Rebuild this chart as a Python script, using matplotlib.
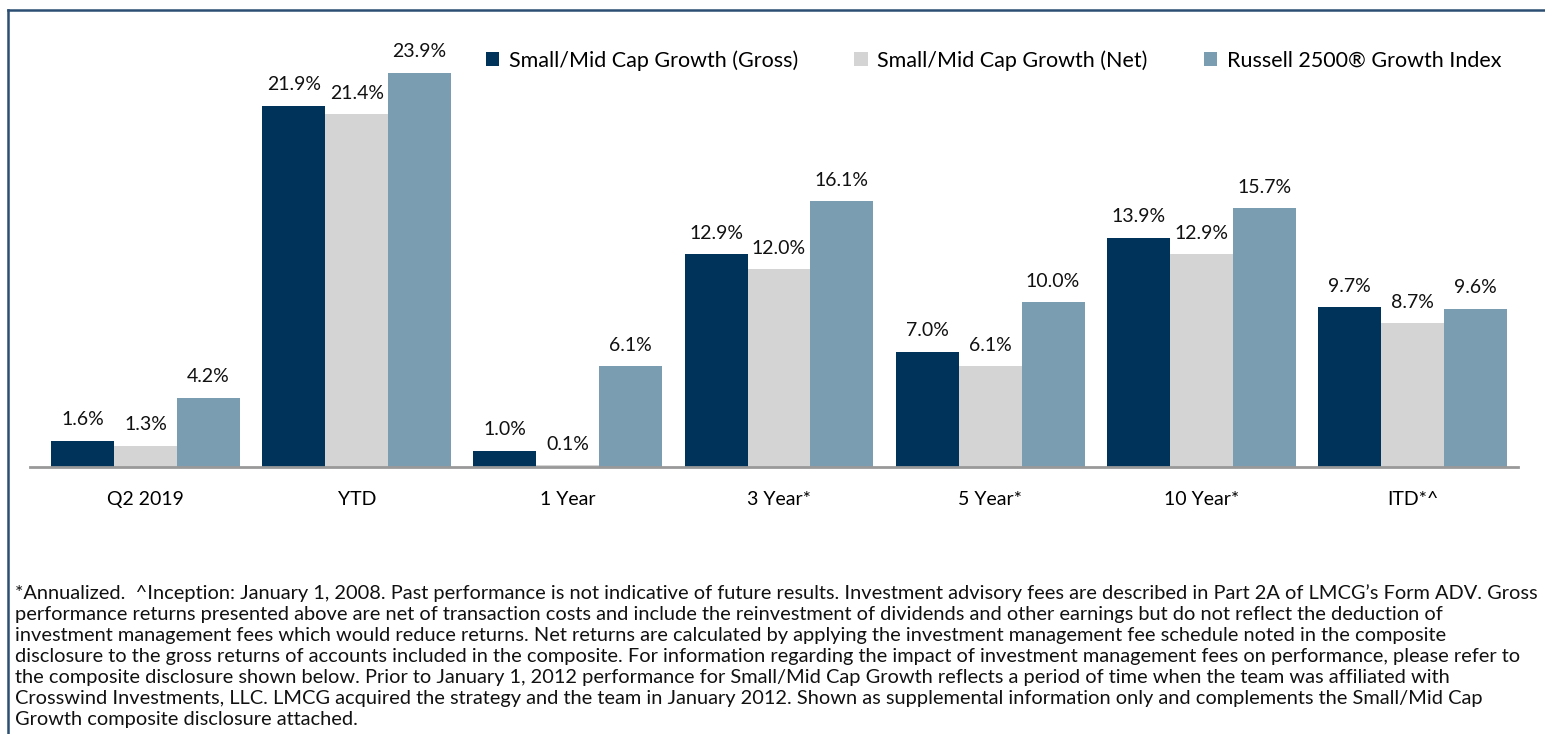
import matplotlib.pyplot as plt
import numpy as np

plt.rcParams['font.family'] = ['Lato', 'DejaVu Sans']

categories = ['Q2 2019', 'YTD', '1 Year', '3 Year*', '5 Year*', '10 Year*', 'ITD*^']
gross = [1.6, 21.9, 1.0, 12.9, 7.0, 13.9, 9.7]
net = [1.3, 21.4, 0.1, 12.0, 6.1, 12.9, 8.7]
index = [4.2, 23.9, 6.1, 16.1, 10.0, 15.7, 9.6]
series_names = ['Small/Mid Cap Growth (Gross)', 'Small/Mid Cap Growth (Net)',
                'Russell 2500\u00ae Growth Index']
colors = ['#00335a', '#d4d4d4', '#7b9db2']

footnote = (
    "*Annualized.  ^Inception: January 1, 2008. Past performance is not indicative of future results. "
    "Investment advisory fees are described in Part 2A of LMCG\u2019s Form ADV. Gross\n"
    "performance returns presented above are net of transaction costs and include the reinvestment of "
    "dividends and other earnings but do not reflect the deduction of\n"
    "investment management fees which would reduce returns. Net returns are calculated by applying the "
    "investment management fee schedule noted in the composite\n"
    "disclosure to the gross returns of accounts included in the composite. For information regarding the "
    "impact of investment management fees on performance, please refer to\n"
    "the composite disclosure shown below. Prior to January 1, 2012 performance for Small/Mid Cap Growth "
    "reflects a period of time when the team was affiliated with\n"
    "Crosswind Investments, LLC. LMCG acquired the strategy and the team in January 2012. Shown as "
    "supplemental information only and complements the Small/Mid Cap\n"
    "Growth composite disclosure attached."
)

W, H = 1545, 734
fig = plt.figure(figsize=(W / 100, H / 100), dpi=100)

# frame (cut off at right and bottom)
fig.add_artist(plt.Line2D([8 / W, 1], [1 - 10 / H, 1 - 10 / H], color='#2b4e72', lw=1.8))
fig.add_artist(plt.Line2D([8 / W, 8 / W], [0, 1 - 10 / H], color='#2b4e72', lw=1.8))

ax = fig.add_axes([30 / W, (H - 467) / H, (1518 - 30) / W, (467 - 38) / H])

x = np.arange(len(categories))
bw = 0.298
for i, (vals, c) in enumerate(zip([gross, net, index], colors)):
    pos = x + (i - 1) * bw
    ax.bar(pos, vals, bw, color=c, label=series_names[i])
    for p, v in zip(pos, vals):
        ax.text(p, v + 0.75, f'{v:.1f}%', ha='center', va='bottom', fontsize=14, color='#111111')

ax.set_xlim(-0.5 - 10 / 211, len(categories) - 0.5)
ax.set_ylim(0, 26)
ax.set_yticks([])
ax.set_xticks(x)
ax.set_xticklabels(categories, fontsize=14)
ax.tick_params(axis='x', length=0, pad=17)
for s in ['top', 'right', 'left']:
    ax.spines[s].set_visible(False)
ax.spines['bottom'].set_color('#999999')
ax.spines['bottom'].set_linewidth(2)

ax.legend(loc='upper left', bbox_to_anchor=(486 / W, 1 - 50 / H), bbox_transform=fig.transFigure,
          ncol=3, frameon=False, fontsize=15.5, handlelength=0.62, handleheight=0.62,
          handletextpad=0.45, columnspacing=2.6, borderaxespad=0, borderpad=0)

fig.text(15 / W, 1 - 584 / H, footnote, ha='left', va='top', fontsize=14.4,
         linespacing=1.29, color='#111111')

fig.savefig('out.png', dpi=100)
